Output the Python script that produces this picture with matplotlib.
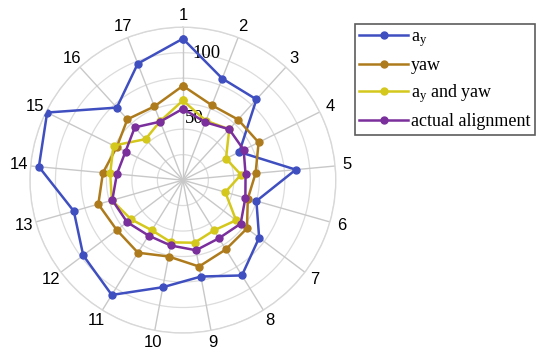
import numpy as np
import matplotlib
matplotlib.use("Agg")
import matplotlib.pyplot as plt

categories = [str(i) for i in range(1, 18)]
a_y = [111, 85.5, 85.7, 49.5, 89, 60, 75, 88, 77, 85.5, 106, 98, 89, 113.5, 119, 77, 98]
yaw = [74, 63, 64.3, 66.4, 57.3, 53, 63, 64, 69, 61, 67, 65, 69, 63, 58, 64.6, 62]
a_y_and_yaw = [62.5, 50, 54, 37.8, 45.8, 34.6, 52.3, 46.4, 50, 49.7, 46.3, 51, 57.9, 57.3, 60.8, 43.5, 49.5]
actual = [56, 48.7, 54, 53.3, 49.4, 51, 56.8, 53.7, 56, 52.2, 51.2, 54.8, 57.6, 52, 50.3, 56, 49.2]
series_names = [r'a$_\mathregular{y}$', 'yaw', r'a$_\mathregular{y}$ and yaw', 'actual alignment']
series_colors = ['#3f4fc0', '#ae7b1c', '#d4c81c', '#7a2f9c']
ring_values = [20, 40, 60, 80, 100, 120]
r_labels = {50: '50', 100: '100'}

plt.rcParams['mathtext.default'] = 'regular'

fig = plt.figure(figsize=(5.5, 3.57), dpi=100)
ax = fig.add_axes([0.0545, 0.067, 0.556, 0.857], projection='polar')
ax.set_theta_zero_location('N')
ax.set_theta_direction(-1)
ax.set_ylim(0, 120)
ax.grid(False)
ax.spines['polar'].set_color('#d8d8d8')
ax.spines['polar'].set_linewidth(1.0)
ax.set_xticks([])
ax.set_yticks([])

n = len(categories)
theta = np.arange(n) * 2 * np.pi / n
circ = np.linspace(0, 2 * np.pi, 400)
for rv in ring_values:
    ax.plot(circ, np.full_like(circ, rv), color='#dcdcdc', lw=0.9, zorder=1)
for t in theta:
    ax.plot([t, t], [0, 120], color='#c8c8c8', lw=1.0, zorder=1)

for t, lab in zip(theta, categories):
    ax.text(t, 129.5, lab, ha='center', va='center', fontsize=12,
            family='Liberation Sans', clip_on=False)

ax.text(np.deg2rad(4.5), 99.5, r_labels[100], ha='left', va='center',
        fontsize=13.5, family='Liberation Serif', zorder=2)
ax.text(np.deg2rad(2.0), 48.5, r_labels[50], ha='left', va='center',
        fontsize=13.5, family='Liberation Serif', zorder=2)

handles = []
for vals, name, col in zip([a_y, yaw, a_y_and_yaw, actual], series_names, series_colors):
    v = list(vals) + [vals[0]]
    t = list(theta) + [theta[0]]
    h, = ax.plot(t, v, color=col, lw=1.8, marker='o', ms=5, label=name, zorder=3)
    handles.append(h)

leg = fig.legend(handles=handles, loc='upper left', bbox_to_anchor=(0.645, 0.933),
                 prop={'family': 'Liberation Serif', 'size': 13},
                 frameon=True, fancybox=False, edgecolor='#333333',
                 handlelength=2.7, handletextpad=0.15, labelspacing=0.45,
                 borderpad=0.25, borderaxespad=0)
leg.get_frame().set_linewidth(1.2)

fig.savefig('out.png', dpi=100)
